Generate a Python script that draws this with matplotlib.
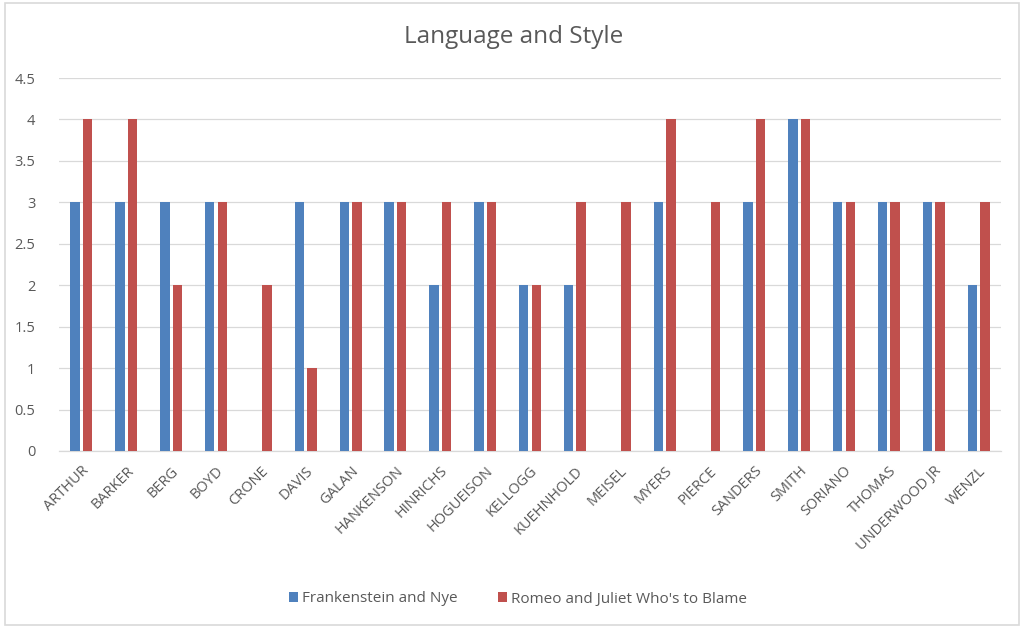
import matplotlib
matplotlib.use('Agg')
from matplotlib import pyplot as plt
from matplotlib.patches import Rectangle
import numpy as np

students = ['ARTHUR', 'BARKER', 'BERG', 'BOYD', 'CRONE', 'DAVIS', 'GALAN',
            'HANKENSON', 'HINRICHS', 'HOGUEISON', 'KELLOGG', 'KUEHNHOLD',
            'MEISEL', 'MYERS', 'PIERCE', 'SANDERS', 'SMITH', 'SORIANO',
            'THOMAS', 'UNDERWOOD JR', 'WENZL']
frankenstein = [3, 3, 3, 3, None, 3, 3, 3, 2, 3, 2, 2, None, 3, None, 3, 4, 3, 3, 3, 2]
romeo = [4, 4, 2, 3, 2, 1, 3, 3, 3, 3, 2, 3, 3, 4, 3, 4, 4, 3, 3, 3, 3]
yticks = [0, 0.5, 1, 1.5, 2, 2.5, 3, 3.5, 4, 4.5]

plt.rcParams['font.family'] = ['Open Sans', 'DejaVu Sans']
c_blue, c_red = '#4F81BD', '#C0504D'
txt = '#595959'

fig = plt.figure(figsize=(10.21, 6.28), dpi=100)
ax = fig.add_axes([59 / 1021, 1 - 451 / 628, 942 / 1021, 373 / 628])

x = np.arange(len(students))
f_vals = np.array([np.nan if v is None else v for v in frankenstein], dtype=float)
w = 0.21
ax.bar(x - 0.14, f_vals, width=w, color=c_blue, label='Frankenstein and Nye', zorder=3)
ax.bar(x + 0.14, romeo, width=w, color=c_red, label="Romeo and Juliet Who's to Blame", zorder=3)

ax.set_xlim(-0.5, len(students) - 0.5)
ax.set_ylim(0, 4.5)
ax.set_yticks(yticks)
ax.set_yticklabels([f'{t:g}' for t in yticks], color=txt, fontsize=10.5)
ax.yaxis.grid(True, color='#D9D9D9', lw=0.9, zorder=0)
ax.set_xticks(x)
ax.set_xticklabels(students, rotation=45, ha='right', rotation_mode='anchor',
                   color=txt, fontsize=10.5)
ax.tick_params(length=0)
ax.tick_params(axis='x', pad=9)
ax.tick_params(axis='y', pad=17)
for s in ['top', 'right', 'left']:
    ax.spines[s].set_visible(False)
ax.spines['bottom'].set_color('#D9D9D9')
ax.spines['bottom'].set_linewidth(0.9)

fig.text(514 / 1021, 1 - 37 / 628, 'Language and Style', ha='center', va='center',
         fontsize=17.5, color=txt)

fig.legend(loc='center', bbox_to_anchor=(518 / 1021, 1 - 599 / 628), ncol=2,
           frameon=False, fontsize=11, labelcolor=txt, handlelength=0.6,
           handleheight=0.6, handletextpad=0.3, columnspacing=2.6)

# outer chart frame
fig.patches.append(Rectangle((5 / 1021, 3 / 628), 1014 / 1021, 622 / 628,
                             transform=fig.transFigure, fill=False,
                             edgecolor='#D9D9D9', lw=1.2))

fig.savefig('out.png', dpi=100)
